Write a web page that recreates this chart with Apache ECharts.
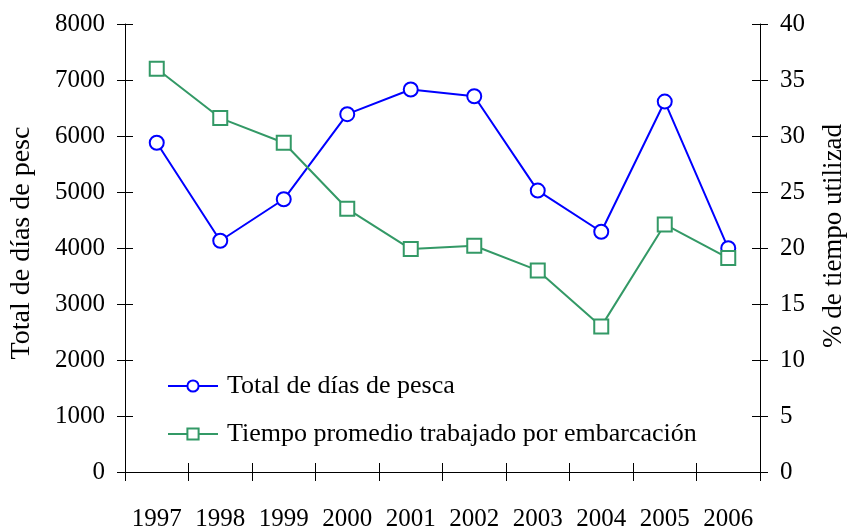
<!DOCTYPE html>
<html>
<head>
<meta charset="utf-8">
<script src="https://cdn.jsdelivr.net/npm/echarts@6/dist/echarts.min.js"></script>
<style>
  html, body { margin: 0; padding: 0; background: #fff; }
  #chart { width: 848px; height: 527px; }
</style>
</head>
<body>
<div id="chart"></div>
<script>
// categorias (años)
const years = ['1997', '1998', '1999', '2000', '2001', '2002', '2003', '2004', '2005', '2006'];
// total de días de pesca (eje izquierdo)
const totalDias = [5880, 4130, 4870, 6390, 6830, 6710, 5025, 4290, 6615, 3995];
// % de tiempo utilizado (eje derecho)
const tiempoPromedio = [36.0, 31.6, 29.4, 23.5, 19.9, 20.2, 18.0, 13.0, 22.1, 19.1];

const leftName = 'Total de días de pesc';
const rightName = '% de tiempo utilizad';
const serif = 'Liberation Serif';

const myChart = echarts.init(document.getElementById('chart'));

// eje y base
function yAxisBase(pos, max, interval) {
    return {
        type: 'value',
        position: pos,
        min: 0,
        max: max,
        interval: interval,
        splitLine: { show: false },
        axisLine: { show: true, lineStyle: { color: '#000', width: 1 } },
        axisTick: { show: true, length: 8, lineStyle: { color: '#000' } },
        axisLabel: { color: '#000', fontFamily: serif, fontSize: 25, margin: 20, formatter: v => String(v) }
    };
}
// ejes extra solo para las marcas hacia dentro
function yInner(pos, max, interval) {
    return {
        type: 'value',
        position: pos,
        offset: 0,
        min: 0,
        max: max,
        interval: interval,
        splitLine: { show: false },
        axisLine: { show: false },
        axisTick: { show: true, inside: true, length: 8, lineStyle: { color: '#000' } },
        axisLabel: { show: false }
    };
}

const option = {
    backgroundColor: '#fff',
    animation: false,
    grid: { left: 125, right: 88, top: 24, bottom: 55, containLabel: false, outerBoundsMode: 'none' },
    legend: {
        orient: 'vertical',
        left: 167,
        top: 373,
        padding: 0,
        itemWidth: 50,
        itemHeight: 14,
        itemGap: 22,
        textStyle: { color: '#000', fontFamily: serif, fontSize: 26, padding: [0, 0, 0, 4] },
        data: ['Total de días de pesca', 'Tiempo promedio trabajado por embarcación']
    },
    xAxis: [
        {
            type: 'category',
            data: years,
            boundaryGap: true,
            axisLine: { show: true, lineStyle: { color: '#000', width: 1 } },
            axisTick: { show: true, length: 9, lineStyle: { color: '#000' } },
            axisLabel: { color: '#000', fontFamily: serif, fontSize: 25, margin: 35, interval: 0 },
            splitLine: { show: false }
        },
        {
            type: 'category',
            data: years,
            position: 'bottom',
            offset: 0,
            boundaryGap: true,
            axisLine: { show: false },
            axisTick: { show: true, inside: true, length: 9, lineStyle: { color: '#000' } },
            axisLabel: { show: false },
            splitLine: { show: false }
        }
    ],
    yAxis: [
        Object.assign(yAxisBase('left', 8000, 1000), {
            name: leftName,
            nameLocation: 'middle',
            nameRotate: 90,
            nameGap: 89,
            nameTextStyle: { color: '#000', fontFamily: serif, fontSize: 28, padding: [0, 0, 0, 10] }
        }),
        Object.assign(yAxisBase('right', 40, 5), {
            name: rightName,
            nameLocation: 'middle',
            nameRotate: 90,
            nameGap: 60,
            nameTextStyle: { color: '#000', fontFamily: serif, fontSize: 27, padding: [0, 0, 0, 24] }
        }),
        yInner('left', 8000, 1000),
        yInner('right', 40, 5)
    ],
    series: [
        {
            name: 'Total de días de pesca',
            type: 'line',
            xAxisIndex: 0,
            yAxisIndex: 0,
            data: totalDias,
            symbol: 'emptyCircle',
            symbolSize: 14,
            lineStyle: { color: '#0000ff', width: 2 },
            itemStyle: { color: '#0000ff', borderWidth: 2 },
            z: 2
        },
        {
            name: 'Tiempo promedio trabajado por embarcación',
            type: 'line',
            xAxisIndex: 0,
            yAxisIndex: 1,
            data: tiempoPromedio,
            symbol: 'emptyRect',
            symbolSize: 14,
            lineStyle: { color: '#339966', width: 2 },
            itemStyle: { color: '#339966', borderWidth: 2 },
            z: 3
        }
    ]
};

myChart.setOption(option);
</script>
</body>
</html>
